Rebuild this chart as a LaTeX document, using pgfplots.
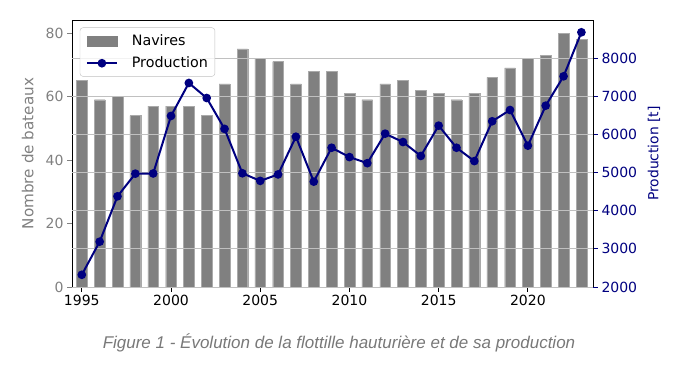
\documentclass[border=0pt]{standalone}
\usepackage{fontspec}
\setmainfont{DejaVu Sans}
\newfontfamily\capfont{Liberation Sans}
\usepackage{pgfplots}
\usepackage{pgfplotstable}
\pgfplotsset{compat=1.18}
\definecolor{barg}{RGB}{128,128,128}
\definecolor{baredge}{RGB}{170,170,170}
\definecolor{navyc}{RGB}{0,0,128}
\definecolor{gridc}{RGB}{192,192,192}
\definecolor{capg}{RGB}{120,120,120}
\pgfplotstableread{
year navires
1995 65
1996 59
1997 60
1998 54
1999 57
2000 57
2001 57
2002 54
2003 64
2004 75
2005 72
2006 71
2007 64
2008 68
2009 68
2010 61
2011 59
2012 64
2013 65
2014 62
2015 61
2016 59
2017 61
2018 66
2019 69
2020 72
2021 73
2022 80
2023 78
}\navires
\pgfplotstableread{
year prod
1995 2320
1996 3190
1997 4380
1998 4975
1999 4980
2000 6490
2001 7355
2002 6960
2003 6150
2004 4985
2005 4785
2006 4955
2007 5945
2008 4765
2009 5655
2010 5410
2011 5250
2012 6025
2013 5805
2014 5440
2015 6235
2016 5655
2017 5305
2018 6350
2019 6645
2020 5710
2021 6760
2022 7530
2023 8685
}\production
\begin{document}
\begin{tikzpicture}
\path[use as bounding box] (0pt,0pt) rectangle (686pt,369pt);
\begin{axis}[
  at={(72pt,82pt)}, anchor=south west,
  width=521pt, height=267pt, scale only axis,
  xmin=1994.45, xmax=2023.65, ymin=0, ymax=84.1,
  xtick={1995,2000,...,2020}, ytick={0,20,...,80},
  xtick pos=bottom, ytick pos=left,
  tick align=outside, major tick length=5pt,
  /pgf/number format/assume math mode=true,
  x tick label style={/pgf/number format/1000 sep={}},
  tick label style={font=\fontsize{14}{16}\selectfont},
  y tick label style={color=barg},
  y tick style={color=barg, line width=0.8pt},
  x tick style={color=black, line width=0.8pt},
  axis line style={line width=0.9pt},
  ylabel={Nombre de bateaux},
  every axis y label/.style={at={(axis description cs:-0.085,0.5)}, rotate=90, anchor=center, font=\fontsize{15.2}{17}\selectfont, color=barg},
]
\addplot[ybar, bar width=0.6, fill=barg, draw=baredge, line width=0.3pt, bar shift=0pt] table[x=year, y=navires] {\navires};
\end{axis}
\begin{axis}[
  at={(72pt,82pt)}, anchor=south west,
  width=521pt, height=267pt, scale only axis,
  xmin=1994.45, xmax=2023.65, ymin=2000, ymax=9008,
  hide x axis, axis y line*=right,
  ytick={2000,3000,...,8000},
  ymajorgrids, grid style={color=gridc, line width=0.8pt},
  tick align=outside, major tick length=5pt,
  /pgf/number format/assume math mode=true,
  y tick label style={/pgf/number format/1000 sep={}, color=navyc, font=\fontsize{14}{16}\selectfont},
  y tick style={color=navyc, line width=0.8pt},
  axis line style={line width=0.9pt, color=black},
  ylabel={Production [t]},
  every axis y label/.style={at={(axis description cs:1.117,0.5)}, rotate=90, anchor=center, font=\fontsize{13.9}{16}\selectfont, color=navyc},
  legend style={at={(0.015,0.972)}, anchor=north west, draw=gridc, fill=white, fill opacity=0.8, text opacity=1, rounded corners=3pt, font=\fontsize{14.3}{16}\selectfont, row sep=8pt, inner xsep=6pt, inner ysep=6pt, nodes={inner sep=1pt},
    /tikz/every odd column/.append style={column sep=13pt}},
  legend cell align=left,
]
\addlegendimage{legend image code/.code={\fill[barg, sharp corners, fill opacity=1] (0pt,-5pt) rectangle (30pt,5pt);}}
\addlegendentry{Navires}
\addplot[color=navyc, line width=2pt, mark=*, mark size=3.3pt, mark options={fill=navyc, draw=navyc},
  legend image code/.code={\draw[navyc, line width=1.8pt, sharp corners] (0pt,0pt) -- (30pt,0pt); \fill[navyc, fill opacity=1] (15pt,0pt) circle (3.3pt);}] table[x=year, y=prod] {\production};
\addlegendentry{Production}
\end{axis}
\node[font=\capfont\itshape\fontsize{17}{19}\selectfont, color=capg] at (339pt,26pt) {Figure 1 - Évolution de la flottille hauturière et de sa production};
\end{tikzpicture}
\end{document}
